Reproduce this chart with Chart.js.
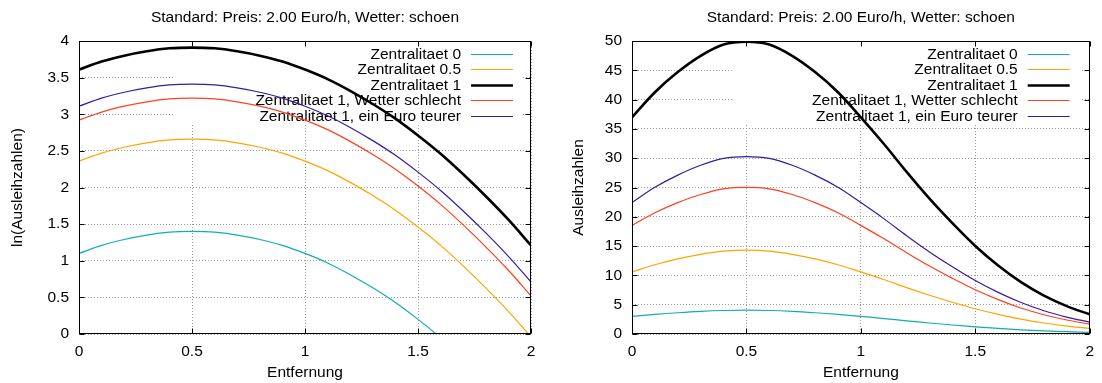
<!DOCTYPE html>
<html lang="de">
<head>
<meta charset="UTF-8">
<title>Ausleihzahlen nach Entfernung</title>
<script src="https://cdn.jsdelivr.net/npm/chart.js"></script>
<style>
  body { margin: 0; background: #fff; }
  .panel { position: absolute; top: 0; width: 551px; height: 383px; }
</style>
</head>
<body>

<div class="panel" style="left:0"><canvas id="lnChart" width="551" height="383"></canvas></div>
<div class="panel" style="left:551px"><canvas id="absChart" width="551" height="383"></canvas></div>

<script>
// Werte
const titleText = 'Standard: Preis: 2.00 Euro/h, Wetter: schoen';
const xTitle = 'Entfernung';
const entfernung = [0, 0.1, 0.2, 0.3, 0.4, 0.5, 0.6, 0.7, 0.8, 0.9, 1, 1.1, 1.2, 1.3, 1.4, 1.5, 1.6, 1.7, 1.8, 1.9, 2];
const seriesNames = ['Zentralitaet 0', 'Zentralitaet 0.5', 'Zentralitaet 1',
                     'Zentralitaet 1, Wetter schlecht', 'Zentralitaet 1, ein Euro teurer'];

// linke Grafik: ln(Ausleihzahlen)
const lnZ0       = [1.10, 1.21, 1.29, 1.35, 1.39, 1.40, 1.39, 1.35, 1.29, 1.21, 1.10, 0.97, 0.81, 0.63, 0.43, 0.20, -0.05, -0.33, -0.63, -0.95, -1.30];
const lnZ05      = [2.36, 2.47, 2.55, 2.61, 2.65, 2.66, 2.65, 2.61, 2.55, 2.47, 2.36, 2.23, 2.07, 1.89, 1.69, 1.46, 1.21, 0.93, 0.63, 0.31, -0.04];
const lnZ1       = [3.61, 3.72, 3.80, 3.86, 3.90, 3.91, 3.90, 3.86, 3.80, 3.72, 3.61, 3.48, 3.32, 3.14, 2.94, 2.71, 2.46, 2.18, 1.88, 1.56, 1.21];
const lnZ1Wetter = [2.92, 3.03, 3.11, 3.17, 3.21, 3.22, 3.21, 3.17, 3.11, 3.03, 2.92, 2.79, 2.63, 2.45, 2.25, 2.02, 1.77, 1.49, 1.19, 0.87, 0.52];
const lnZ1Euro   = [3.11, 3.22, 3.30, 3.36, 3.40, 3.41, 3.40, 3.36, 3.30, 3.22, 3.11, 2.98, 2.82, 2.64, 2.44, 2.21, 1.96, 1.68, 1.38, 1.06, 0.71];

// rechte Grafik: Ausleihzahlen
const absZ0       = [3.00, 3.35, 3.63, 3.86, 4.01, 4.06, 4.01, 3.86, 3.63, 3.35, 3.00, 2.64, 2.25, 1.88, 1.54, 1.22, 0.95, 0.72, 0.53, 0.39, 0.27];
const absZ05      = [10.59, 11.82, 12.81, 13.60, 14.15, 14.30, 14.15, 13.60, 12.81, 11.82, 10.59, 9.30, 7.92, 6.62, 5.42, 4.31, 3.35, 2.53, 1.88, 1.36, 0.96];
const absZ1       = [36.97, 41.26, 44.70, 47.47, 49.40, 49.90, 49.40, 47.47, 44.70, 41.26, 36.97, 32.46, 27.66, 23.10, 18.92, 15.03, 11.70, 8.85, 6.55, 4.76, 3.35];
const absZ1Wetter = [18.54, 20.70, 22.42, 23.81, 24.78, 25.03, 24.78, 23.81, 22.42, 20.70, 18.54, 16.28, 13.87, 11.59, 9.49, 7.54, 5.87, 4.44, 3.29, 2.39, 1.68];
const absZ1Euro   = [22.42, 25.03, 27.11, 28.79, 29.96, 30.27, 29.96, 28.79, 27.11, 25.03, 22.42, 19.69, 16.78, 14.01, 11.47, 9.12, 7.10, 5.37, 3.97, 2.89, 2.03];

const xTicks   = [0, 0.5, 1, 1.5, 2];
const lnTicks  = [0, 0.5, 1, 1.5, 2, 2.5, 3, 3.5, 4];
const absTicks = [0, 5, 10, 15, 20, 25, 30, 35, 40, 45, 50];

const colors = ['#14adad', '#ffa500', '#000000', '#ff4020', '#3a1a9e'];
const widths = [1.2, 1.2, 2.6, 1.2, 1.2];
const FONT = '"Liberation Sans", Arial, sans-serif';
const FSIZE = 15.5;

// gnuplot-Optik: Titel, undurchsichtige Legende, Rahmen mit Ticks nach innen
const gnuplotLook = {
    id: 'gnuplotLook',
    beforeDatasetsDraw(chart, args, opts) {
        const { ctx, chartArea: a } = chart;
        ctx.save();
        ctx.fillStyle = '#fff';
        ctx.fillRect(a.right - opts.keyWidth, a.top, opts.keyWidth - 9, 82);
        ctx.font = FSIZE + 'px ' + FONT;
        ctx.textAlign = 'right';
        ctx.textBaseline = 'middle';
        chart.data.datasets.forEach((ds, i) => {
            const y = Math.round(a.top + 12.5 + i * 15.5) + 0.5;
            ctx.fillStyle = '#000';
            ctx.fillText(ds.label, a.right - opts.textGap, y);
            ctx.strokeStyle = ds.borderColor;
            ctx.lineWidth = ds.borderWidth;
            ctx.beginPath();
            ctx.moveTo(a.right - opts.lineFrom, y);
            ctx.lineTo(a.right - opts.lineTo, y);
            ctx.stroke();
        });
        ctx.restore();
    },
    afterDraw(chart) {
        const { ctx, chartArea: a, scales } = chart;
        const L = Math.round(a.left) + 0.5, R = Math.round(a.right) - 0.5;
        const T = Math.round(a.top) + 0.5, B = Math.round(a.bottom) - 0.5;
        ctx.save();
        ctx.strokeStyle = '#000';
        ctx.lineWidth = 1;
        ctx.strokeRect(L, T, R - L, B - T);
        ctx.beginPath();
        scales.x.ticks.forEach(t => {
            const px = Math.round(scales.x.getPixelForValue(t.value)) + 0.5;
            ctx.moveTo(px, B); ctx.lineTo(px, B - 5);
            ctx.moveTo(px, T); ctx.lineTo(px, T + 5);
        });
        scales.y.ticks.forEach(t => {
            const py = Math.round(scales.y.getPixelForValue(t.value)) + 0.5;
            ctx.moveTo(L, py); ctx.lineTo(L + 5, py);
            ctx.moveTo(R, py); ctx.lineTo(R - 5, py);
        });
        ctx.stroke();
        ctx.fillStyle = '#000';
        ctx.font = FSIZE + 'px ' + FONT;
        ctx.textAlign = 'center';
        ctx.textBaseline = 'middle';
        ctx.fillText(titleText, (a.left + a.right) / 2, 18);
        ctx.restore();
    }
};

function makePanel(id, values, yTicks, yMax, yTitle, opt) {
    const datasets = values.map((arr, i) => ({
        label: seriesNames[i],
        data: entfernung.map((x, j) => ({ x: x, y: arr[j] })),
        borderColor: colors[i],
        borderWidth: widths[i],
        pointRadius: 0,
        fill: false,
        tension: 0.35
    }));
    return new Chart(document.getElementById(id), {
        type: 'line',
        data: { datasets: datasets },
        plugins: [gnuplotLook],
        options: {
            responsive: false,
            animation: false,
            devicePixelRatio: 1,
            layout: { padding: { top: 41, right: opt.padRight, bottom: 0, left: 0 } },
            plugins: {
                legend: { display: false },
                tooltip: { enabled: false },
                gnuplotLook: opt.key
            },
            scales: {
                x: {
                    type: 'linear', min: 0, max: 2,
                    afterBuildTicks: s => { s.ticks = xTicks.map(v => ({ value: v })); },
                    afterFit: s => { s.height = 49; },
                    ticks: { color: '#000', font: { family: FONT, size: FSIZE }, padding: 8,
                             maxRotation: 0, callback: v => String(v) },
                    grid: { color: '#9a9a9a', lineWidth: 1, drawTicks: false },
                    border: { display: false, dash: [1, 2] },
                    title: { display: true, text: xTitle, color: '#000',
                             font: { family: FONT, size: FSIZE }, padding: { top: 0, bottom: 1 } }
                },
                y: {
                    type: 'linear', min: 0, max: yMax,
                    afterBuildTicks: s => { s.ticks = yTicks.map(v => ({ value: v })); },
                    afterFit: s => { s.width = opt.yWidth; },
                    ticks: { color: '#000', font: { family: FONT, size: FSIZE }, padding: 10,
                             callback: v => String(v) },
                    grid: { color: '#9a9a9a', lineWidth: 1, drawTicks: false },
                    border: { display: false, dash: [1, 2] },
                    title: { display: true, text: yTitle, color: '#000',
                             font: { family: FONT, size: FSIZE }, padding: { top: opt.titlePad, bottom: 0 } }
                }
            }
        }
    });
}

makePanel('lnChart', [lnZ0, lnZ05, lnZ1, lnZ1Wetter, lnZ1Euro], lnTicks, 4, 'ln(Ausleihzahlen)', {
    padRight: 20, yWidth: 79, titlePad: 8,
    key: { keyWidth: 356, textGap: 70, lineFrom: 60, lineTo: 18 }
});
makePanel('absChart', [absZ0, absZ05, absZ1, absZ1Wetter, absZ1Euro], absTicks, 50, 'Ausleihzahlen', {
    padRight: 7, yWidth: 81, titlePad: 18,
    key: { keyWidth: 358, textGap: 72, lineFrom: 62, lineTo: 20 }
});
</script>

</body>
</html>
